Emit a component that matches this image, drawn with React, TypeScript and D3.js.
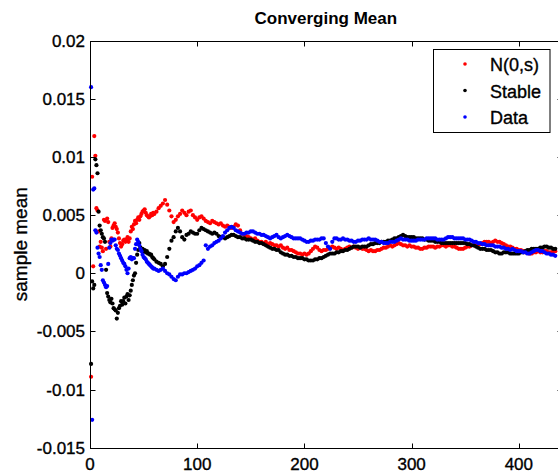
import React from "react";
import * as d3 from "d3";

// Sample index: every step for 1..60, every second step for 62..434
const idxEarly = d3.range(1, 61);
const idxLate = d3.range(62, 435, 2);

const redEarly = [
  -0.0089, 0.0083, 0.0006, 0.0118, 0.0101, 0.0056, 0.0054, 0.0036, 0.0023, 0.0027,
  0.0022, 0.0019, 0.0046, 0.0045, 0.0021, 0.0047, 0.0044, 0.0027, 0.0023, 0.0030,
  0.0039, 0.0041, 0.0043, 0.0040, 0.0038, 0.0035, 0.0030, 0.0026, 0.0023, 0.0025,
  0.0028, 0.0029, 0.0027, 0.0029, 0.0031, 0.0027, 0.0030, 0.0036, 0.0040, 0.0038,
  0.0042, 0.0045, 0.0043, 0.0046, 0.0048, 0.0046, 0.0049, 0.0051, 0.0053, 0.0054,
  0.0055, 0.0052, 0.0050, 0.0049, 0.0048, 0.0049, 0.0051, 0.0050, 0.0052, 0.0051,
];
const redLate = [
  0.0053, 0.0056, 0.0058, 0.0060, 0.0063, 0.0059, 0.0054, 0.0049, 0.0044, 0.0046,
  0.0049, 0.0051, 0.0054, 0.0052, 0.0050, 0.0053, 0.0054, 0.0050, 0.0048, 0.0046,
  0.0048, 0.0049, 0.0047, 0.0045, 0.0044, 0.0043, 0.0045, 0.0044, 0.0043, 0.0042,
  0.0043, 0.0041, 0.0040, 0.0041, 0.0040, 0.0039, 0.0040, 0.0042, 0.0041, 0.0037,
  0.0034, 0.0033, 0.0032, 0.0031, 0.0030, 0.0029, 0.0030, 0.0028, 0.0027, 0.0027,
  0.0026, 0.0027, 0.0025, 0.0026, 0.0025, 0.0024, 0.0024, 0.0023, 0.0024, 0.0022,
  0.0021, 0.0022, 0.0020, 0.0020, 0.0019, 0.0018, 0.0017, 0.0017, 0.0016, 0.0017,
  0.0016, 0.0017, 0.0019, 0.0021, 0.0023, 0.0022, 0.0020, 0.0019, 0.0020, 0.0020,
  0.0021, 0.0022, 0.0023, 0.0022, 0.0021, 0.0022, 0.0021, 0.0020, 0.0021, 0.0022,
  0.0023, 0.0022, 0.0023, 0.0022, 0.0021, 0.0022, 0.0021, 0.0021, 0.0020, 0.0019,
  0.0020, 0.0019, 0.0019, 0.0020, 0.0020, 0.0021, 0.0022, 0.0022, 0.0023, 0.0024,
  0.0023, 0.0024, 0.0025, 0.0026, 0.0025, 0.0024, 0.0024, 0.0023, 0.0024, 0.0023,
  0.0023, 0.0022, 0.0022, 0.0021, 0.0021, 0.0022, 0.0022, 0.0023, 0.0023, 0.0023,
  0.0022, 0.0023, 0.0023, 0.0024, 0.0024, 0.0023, 0.0024, 0.0024, 0.0023, 0.0023,
  0.0022, 0.0021, 0.0021, 0.0021, 0.0022, 0.0023, 0.0023, 0.0024, 0.0024, 0.0024,
  0.0025, 0.0025, 0.0026, 0.0027, 0.0027, 0.0027, 0.0026, 0.0027, 0.0028, 0.0027,
  0.0027, 0.0026, 0.0025, 0.0024, 0.0023, 0.0023, 0.0022, 0.0021, 0.0021, 0.0020,
  0.0020, 0.0019, 0.0018, 0.0018, 0.0017, 0.0017, 0.0018, 0.0018, 0.0019, 0.0018,
  0.0018, 0.0019, 0.0019, 0.0018, 0.0018, 0.0019, 0.0019,
];

const blackEarly = [
  -0.0078, -0.0007, -0.0013, -0.0010, 0.0098, 0.0093, 0.0086, 0.0053, 0.0041, 0.0037,
  0.0034, 0.0031, 0.0030, 0.0027, 0.0003, -0.0017, -0.0020, -0.0023, -0.0025, -0.0022,
  -0.0026, -0.0030, -0.0031, -0.0032, -0.0039, -0.0034, -0.0030, -0.0028, -0.0024, -0.0027,
  -0.0024, -0.0021, -0.0026, -0.0020, -0.0018, -0.0023, -0.0019, -0.0015, -0.0010, -0.0006,
  -0.0002, 0.0000, 0.0009, 0.0016, 0.0020, 0.0026, 0.0022, 0.0020, 0.0021, 0.0019,
  0.0020, 0.0018, 0.0019, 0.0017, 0.0017, 0.0016, 0.0016, 0.0014, 0.0013, 0.0012,
];
const blackLate = [
  0.0010, 0.0009, 0.0008, 0.0006, 0.0008, 0.0014, 0.0021, 0.0028, 0.0031, 0.0036,
  0.0039, 0.0036, 0.0031, 0.0029, 0.0033, 0.0034, 0.0036, 0.0035, 0.0034, 0.0034,
  0.0037, 0.0039, 0.0038, 0.0037, 0.0036, 0.0035, 0.0034, 0.0035, 0.0034, 0.0032,
  0.0031, 0.0031, 0.0030, 0.0031, 0.0032, 0.0033, 0.0033, 0.0032, 0.0031, 0.0031,
  0.0030, 0.0030, 0.0029, 0.0029, 0.0029, 0.0028, 0.0027, 0.0027, 0.0026, 0.0026,
  0.0025, 0.0024, 0.0023, 0.0022, 0.0021, 0.0021, 0.0020, 0.0020, 0.0018, 0.0017,
  0.0016, 0.0016, 0.0015, 0.0015, 0.0014, 0.0014, 0.0013, 0.0013, 0.0013, 0.0012,
  0.0012, 0.0011, 0.0011, 0.0011, 0.0012, 0.0012, 0.0013, 0.0013, 0.0014, 0.0015,
  0.0016, 0.0017, 0.0017, 0.0017, 0.0018, 0.0018, 0.0019, 0.0019, 0.0020, 0.0020,
  0.0021, 0.0022, 0.0023, 0.0023, 0.0023, 0.0022, 0.0023, 0.0023, 0.0023, 0.0024,
  0.0025, 0.0025, 0.0026, 0.0026, 0.0026, 0.0027, 0.0027, 0.0027, 0.0028, 0.0028,
  0.0029, 0.0030, 0.0030, 0.0031, 0.0032, 0.0033, 0.0032, 0.0031, 0.0031, 0.0031,
  0.0031, 0.0030, 0.0030, 0.0030, 0.0030, 0.0029, 0.0029, 0.0028, 0.0028, 0.0028,
  0.0027, 0.0027, 0.0027, 0.0026, 0.0026, 0.0026, 0.0026, 0.0026, 0.0026, 0.0026,
  0.0026, 0.0026, 0.0026, 0.0026, 0.0026, 0.0025, 0.0025, 0.0024, 0.0024, 0.0023,
  0.0022, 0.0021, 0.0021, 0.0021, 0.0020, 0.0020, 0.0020, 0.0019, 0.0018, 0.0018,
  0.0017, 0.0017, 0.0018, 0.0018, 0.0018, 0.0017, 0.0017, 0.0017, 0.0017, 0.0017,
  0.0018, 0.0018, 0.0019, 0.0020, 0.0020, 0.0021, 0.0021, 0.0021, 0.0021, 0.0022,
  0.0022, 0.0023, 0.0023, 0.0022, 0.0022, 0.0021, 0.0021,
];

const blueEarly = [
  0.0160, -0.0126, 0.0072, 0.0073, 0.0037, 0.0035, 0.0022, 0.0017, 0.0014, 0.0007,
  0.0003, -0.0006, -0.0008, -0.0010, -0.0012, -0.0011, 0.0008, 0.0022, 0.0026, 0.0029,
  0.0028, 0.0029, 0.0029, 0.0024, 0.0021, 0.0020, 0.0017, 0.0015, 0.0013, 0.0011,
  0.0009, 0.0008, 0.0006, 0.0003, 0.0000, 0.0004, 0.0013, 0.0014, 0.0012, 0.0013,
  0.0013, 0.0021, 0.0025, 0.0029, 0.0027, 0.0024, 0.0021, 0.0019, 0.0016, 0.0014,
  0.0013, 0.0012, 0.0010, 0.0009, 0.0008, 0.0007, 0.0006, 0.0005, 0.0004, 0.0004,
];
const blueLate = [
  0.0003, 0.0002, 0.0003, 0.0004, 0.0002, 0.0000, -0.0001, -0.0003, -0.0005, -0.0006,
  -0.0003, -0.0001, -0.0001, 0.0000, 0.0000, 0.0001, 0.0002, 0.0003, 0.0004, 0.0006,
  0.0007, 0.0009, 0.0011, 0.0024, 0.0021, 0.0023, 0.0024, 0.0026, 0.0027, 0.0028,
  0.0030, 0.0032, 0.0035, 0.0037, 0.0039, 0.0040, 0.0039, 0.0037, 0.0036, 0.0035,
  0.0034, 0.0034, 0.0035, 0.0035, 0.0036, 0.0036, 0.0035, 0.0034, 0.0034, 0.0033,
  0.0033, 0.0032, 0.0031, 0.0030, 0.0031, 0.0032, 0.0033, 0.0031, 0.0030, 0.0031,
  0.0032, 0.0033, 0.0032, 0.0031, 0.0030, 0.0030, 0.0030, 0.0030, 0.0029, 0.0028,
  0.0027, 0.0027, 0.0028, 0.0028, 0.0029, 0.0029, 0.0029, 0.0030, 0.0030, 0.0026,
  0.0023, 0.0021, 0.0027, 0.0030, 0.0030, 0.0029, 0.0029, 0.0030, 0.0029, 0.0029,
  0.0028, 0.0028, 0.0027, 0.0027, 0.0028, 0.0028, 0.0029, 0.0029, 0.0029, 0.0030,
  0.0029, 0.0029, 0.0029, 0.0028, 0.0027, 0.0027, 0.0026, 0.0026, 0.0026, 0.0027,
  0.0027, 0.0027, 0.0028, 0.0029, 0.0030, 0.0029, 0.0029, 0.0029, 0.0028, 0.0028,
  0.0028, 0.0028, 0.0029, 0.0029, 0.0029, 0.0029, 0.0030, 0.0030, 0.0030, 0.0030,
  0.0030, 0.0029, 0.0029, 0.0029, 0.0029, 0.0030, 0.0031, 0.0031, 0.0031, 0.0030,
  0.0030, 0.0030, 0.0030, 0.0030, 0.0029, 0.0029, 0.0029, 0.0028, 0.0027, 0.0027,
  0.0026, 0.0026, 0.0025, 0.0025, 0.0024, 0.0024, 0.0024, 0.0024, 0.0023, 0.0023,
  0.0023, 0.0022, 0.0022, 0.0021, 0.0021, 0.0020, 0.0021, 0.0020, 0.0019, 0.0019,
  0.0019, 0.0018, 0.0018, 0.0017, 0.0017, 0.0018, 0.0019, 0.0020, 0.0020, 0.0019,
  0.0019, 0.0018, 0.0017, 0.0017, 0.0016, 0.0016, 0.0015,
];

const seriesNames = ["N(0,s)", "Stable", "Data"];
const seriesColors = ["#ff0000", "#000000", "#0000ff"];
const xTicks = [0, 100, 200, 300, 400];
const yTicks = [-0.015, -0.01, -0.005, 0, 0.005, 0.01, 0.015, 0.02];
const yTickLabels = ["-0.015", "-0.01", "-0.005", "0", "0.005", "0.01", "0.015", "0.02"];

const W = 558;
const H = 474;
const FONT = "Arial, 'Liberation Sans', Helvetica, sans-serif";

export default function App() {
  const left = 90, right = 561.7, top = 40.7, bottom = 447.7;
  const x = d3.scaleLinear().domain([0, 440]).range([left, right]);
  const y = d3.scaleLinear().domain([-0.015, 0.02]).range([bottom, top]);
  const idx = idxEarly.concat(idxLate);
  const series = [redEarly.concat(redLate), blackEarly.concat(blackLate), blueEarly.concat(blueLate)];
  const L = Math.round(left) + 0.5, R = Math.round(right) + 0.5, T = Math.round(top) + 0.5, B = Math.round(bottom) + 0.5;
  const tick = 5;
  const heavy = { stroke: "#000", strokeWidth: 0.35 };

  return (
    <svg width={W} height={H} style={{ position: "absolute", left: 0, top: 0, background: "#fff" }} fontFamily={FONT}>
      <rect x={0} y={0} width={W} height={H} fill="#fff" />
      <text x={(left + right) / 2} y={24} textAnchor="middle" fontSize={17} fontWeight="bold">Converging Mean</text>
      {series.map((vals, si) => (
        <g key={si} fill={seriesColors[si]}>
          {vals.slice(0, idx.length).map((v, i) => (
            <circle key={i} cx={x(idx[i])} cy={y(v)} r={2.1} />
          ))}
        </g>
      ))}
      <g stroke="#000" strokeWidth={1} fill="none">
        <rect x={L} y={T} width={R - L} height={B - T} />
        {xTicks.map((t) => {
          const px = Math.round(x(t)) + 0.5;
          return (
            <g key={t}>
              <line x1={px} x2={px} y1={B} y2={B - tick} />
              <line x1={px} x2={px} y1={T} y2={T + tick} />
            </g>
          );
        })}
        {yTicks.map((t) => {
          const py = Math.round(y(t)) + 0.5;
          return (
            <g key={t}>
              <line x1={L} x2={L + tick} y1={py} y2={py} />
              <line x1={R} x2={R - tick} y1={py} y2={py} />
            </g>
          );
        })}
      </g>
      <g fontSize={17} fill="#000" {...heavy}>
        {xTicks.map((t) => (
          <text key={t} x={x(t)} y={470} textAnchor="middle">{t}</text>
        ))}
        {yTicks.map((t, i) => (
          <text key={t} x={85} y={y(t) + 6} textAnchor="end">{yTickLabels[i]}</text>
        ))}
      </g>
      <text transform={`translate(27,${(top + bottom) / 2}) rotate(-90)`} textAnchor="middle" fontSize={19} {...heavy}>sample mean</text>
      <g>
        <rect x={433.5} y={49.5} width={116.5} height={83} fill="#fff" stroke="#000" strokeWidth={1} />
        {seriesNames.map((n, i) => (
          <g key={n}>
            <circle cx={465} cy={64 + i * 26.5} r={1.8} fill={seriesColors[i]} />
            <text x={490} y={71 + i * 26.5} fontSize={18} {...heavy}>{n}</text>
          </g>
        ))}
      </g>
    </svg>
  );
}
